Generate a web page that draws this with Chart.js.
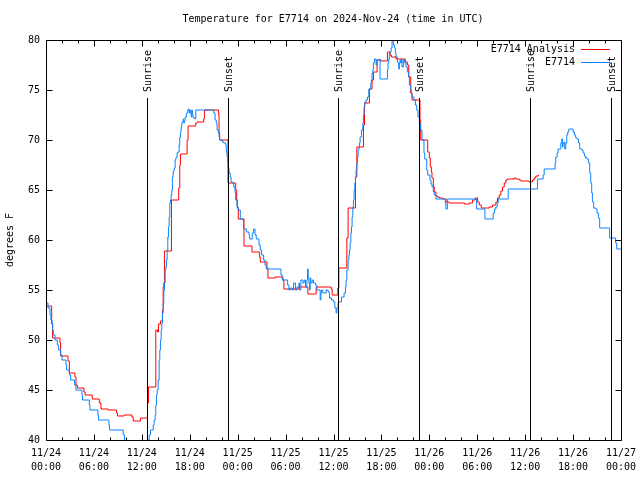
<!DOCTYPE html>
<html>
<head>
<meta charset="utf-8">
<script src="https://cdn.jsdelivr.net/npm/chart.js@4.4.1/dist/chart.umd.min.js"></script>
<style>
html,body{margin:0;padding:0;background:#fff;}
canvas{display:block;}
</style>
</head>
<body>
<canvas id="c" width="640" height="480"></canvas>
<script>
// ---- data (hours since 2024-11-24 00:00 UTC, degrees F) ----
const titleText = "Temperature for E7714 on 2024-Nov-24 (time in UTC)";
const yAxisTitle = "degrees F";
const seriesNames = ["E7714 Analysis", "E7714"];

const xTickHours = [0, 6, 12, 18, 24, 30, 36, 42, 48, 54, 60, 66, 72];
const xTickDates = ["11/24","11/24","11/24","11/24","11/25","11/25","11/25","11/25","11/26","11/26","11/26","11/26","11/27"];
const xTickTimes = ["00:00","06:00","12:00","18:00","00:00","06:00","12:00","18:00","00:00","06:00","12:00","18:00","00:00"];
const yTicks = [40, 45, 50, 55, 60, 65, 70, 75, 80];

const sunriseHours = [12.6, 36.55, 60.55];
const sunsetHours = [22.8, 46.75, 70.7];

const analysisHours = [0,0.71,0.83,1.75,1.83,2.75,2.92,3.62,3.75,3.92,4.75,4.9,5.79,6.67,6.88,7.79,8.83,8.96,9.79,10.75,10.92,11.83,12.71,12.83,13.75,13.96,14.08,14.33,14.58,14.67,14.75,14.83,15.71,16.62,16.75,16.83,17.67,17.79,18.75,18.92,19.75,19.83,21.62,21.67,21.75,22.79,23.75,23.88,23.96,24.08,24.79,25.79,26.75,26.83,27.67,27.79,28.71,29.67,29.79,31.67,32.79,33.83,35.71,35.83,36.54,36.67,37.67,37.83,38.75,38.92,39.75,39.88,40.5,40.83,41.0,41.46,41.96,42.75,43.08,43.25,43.83,45.0,45.25,45.42,45.67,45.83,46.83,46.92,47.79,48.0,48.12,48.25,48.33,48.5,48.62,48.83,49.04,49.25,49.67,50.08,50.5,52.17,52.38,52.79,53.0,53.42,53.75,54.04,54.25,54.5,54.67,55.08,55.5,55.92,56.33,56.54,56.75,56.96,57.17,57.38,57.58,57.79,58.21,58.62,58.83,59.25,59.46,59.88,60.5,60.71,60.92,61.12,61.33,61.67];
const analysisTemps = [53.4,51.6,50.2,49.7,48.4,47.9,46.7,46.3,45.5,45.2,44.8,44.5,44.1,43.7,43.1,43.0,42.7,42.4,42.5,42.3,41.9,42.2,43.7,45.3,51.0,50.8,51.6,51.9,53.0,55.3,55.7,58.9,64.0,65.2,67.5,68.6,70.0,71.4,71.7,71.8,72.1,73.0,72.5,70.7,70.0,65.7,65.0,64.0,63.2,62.1,59.4,58.8,58.3,57.8,57.2,56.2,56.3,56.0,55.1,55.3,54.6,55.3,55.1,54.5,55.2,57.2,60.2,63.2,66.3,69.3,71.5,73.7,75.1,76.0,76.8,78.0,77.9,78.8,78.5,78.3,78.1,77.8,77.5,76.3,74.7,74.0,72.0,70.0,68.8,68.2,67.3,66.8,66.2,65.3,64.8,64.4,64.3,64.2,64.1,63.8,63.7,63.7,63.6,63.6,63.7,64.0,64.2,63.8,63.5,63.2,63.2,63.2,63.3,63.5,63.8,64.2,64.5,64.9,65.3,65.7,66.0,66.1,66.1,66.2,66.1,66.0,65.9,65.9,65.8,65.8,66.0,66.2,66.4,66.5];

const obsHours = [0,0.25,0.5,0.62,0.75,0.83,0.92,1.12,1.42,1.58,1.83,2.0,2.5,2.58,2.92,3.08,3.58,3.75,4.5,4.58,5.42,5.5,6.5,6.58,7.88,7.96,9.67,9.83,12.79,12.92,13.08,13.42,13.54,13.67,13.75,13.83,13.92,14.04,14.17,14.25,14.33,14.42,14.5,14.58,14.67,14.75,14.83,14.92,15.0,15.08,15.17,15.25,15.33,15.42,15.5,15.58,15.67,15.75,15.83,15.92,16.0,16.08,16.17,16.25,16.33,16.42,16.5,16.67,16.75,16.83,16.92,17.0,17.08,17.17,17.25,17.33,17.42,17.58,17.75,17.83,17.92,18.0,18.08,18.17,18.25,18.33,18.42,18.67,18.75,21.0,21.17,21.33,21.42,21.58,21.67,21.75,22.08,22.25,22.5,22.58,22.67,22.75,22.83,22.92,23.08,23.17,23.33,23.5,23.67,23.75,23.92,24.08,24.33,24.75,25.08,25.42,25.5,25.83,26.0,26.17,26.33,26.67,26.83,27.0,27.25,27.42,27.58,29.42,29.58,30.25,30.42,30.58,30.83,31.0,31.25,31.42,31.67,31.75,31.92,32.17,32.33,32.5,32.67,32.75,32.83,32.92,33.0,33.08,33.17,33.33,33.5,33.75,33.92,34.33,34.42,34.5,34.67,35.08,35.33,35.5,35.75,36.0,36.17,36.33,36.42,36.58,37.0,37.33,37.5,37.58,37.67,37.83,37.92,38.0,38.08,38.17,38.25,38.33,38.42,38.5,38.58,38.67,38.75,38.83,38.92,39.0,39.08,39.17,39.25,39.33,39.5,39.67,39.75,39.83,39.92,40.08,40.25,40.42,40.67,40.75,40.83,40.92,41.0,41.12,41.33,41.42,41.75,41.83,42.75,42.83,42.92,43.0,43.12,43.21,43.33,43.5,43.62,43.75,43.83,44.0,44.08,44.17,44.25,44.33,44.42,44.5,44.58,44.75,44.92,45.08,45.25,45.42,45.5,45.67,45.75,45.83,46.08,46.25,46.42,46.58,46.75,46.88,47.08,47.33,47.42,47.67,47.79,48.08,48.21,48.33,48.5,48.62,48.83,50.0,50.08,50.25,53.92,54.96,56.0,56.17,56.33,56.5,56.62,57.88,61.54,62.25,62.38,63.75,63.83,64.0,64.12,64.46,64.58,64.67,64.75,64.88,64.96,65.08,65.21,65.33,65.46,66.0,66.17,66.33,66.5,66.67,66.83,67.08,67.25,67.42,67.58,67.75,67.92,68.08,68.21,68.33,68.42,68.58,68.83,69.0,69.17,69.33,70.58,71.33,71.46,72.0];
const obsTemps = [53.7,53.2,52.5,52.0,51.7,51.0,50.5,50.0,49.5,49.0,48.5,48.0,47.5,47.0,46.5,46.0,45.5,45.0,44.5,44.0,43.5,43.0,42.5,42.0,41.5,41.0,40.5,39.5,40.0,40.5,41.0,41.5,42.0,42.5,43.5,44.5,45.0,46.0,48.0,49.0,50.0,51.0,51.7,52.7,53.7,55.0,55.7,57.0,57.3,58.0,59.0,60.3,61.3,62.3,63.7,64.0,64.5,65.0,66.3,66.8,67.0,67.2,68.0,68.2,68.3,68.7,68.8,69.5,70.3,70.8,71.3,71.7,71.8,72.1,71.7,71.9,72.3,72.7,73.0,73.1,72.7,73.0,72.7,72.3,73.0,72.5,72.2,72.1,73.0,72.7,72.0,71.7,71.0,70.7,70.3,70.0,69.8,69.7,69.5,68.8,68.3,67.8,67.2,66.7,66.3,65.8,65.7,65.3,64.7,64.0,63.3,63.0,62.1,61.1,60.8,60.5,60.1,60.7,61.1,60.5,60.1,59.5,59.0,58.5,58.0,57.5,57.1,56.5,56.0,55.5,55.0,55.2,55.0,55.7,55.0,55.3,55.7,55.0,56.0,55.7,56.0,55.3,56.0,57.1,56.3,55.7,55.0,56.2,55.7,56.0,55.7,55.5,55.0,54.0,54.7,55.0,54.7,55.0,54.8,54.2,54.0,53.8,53.2,52.7,53.2,53.8,54.3,54.7,55.3,56.0,57.0,58.0,58.5,59.0,59.7,60.7,61.3,62.3,63.3,64.0,65.0,65.7,66.3,67.0,67.7,68.3,69.0,69.2,69.7,70.3,71.0,71.7,72.5,73.3,73.8,74.0,74.3,75.1,75.7,76.0,76.7,77.0,77.7,78.1,77.5,78.0,78.1,76.1,77.0,77.7,78.1,78.7,78.8,79.2,80.0,79.5,79.2,78.7,78.3,77.8,77.7,77.1,77.7,78.0,77.7,78.1,77.3,78.0,77.7,77.3,76.8,76.3,75.5,75.0,74.7,74.3,74.0,73.5,73.0,72.3,71.7,71.0,70.0,68.7,68.1,67.0,66.5,66.0,65.6,65.3,64.8,64.5,64.1,63.6,63.1,64.1,63.1,62.1,62.7,63.1,63.3,63.7,64.1,65.1,66.1,66.5,67.1,67.7,68.3,68.7,69.1,69.7,70.1,69.3,69.7,69.8,69.1,69.7,70.5,70.8,71.1,70.8,70.5,70.2,70.1,69.7,69.1,69.0,68.7,68.4,68.2,68.1,67.7,66.7,65.7,64.7,63.8,63.2,63.1,62.7,62.2,61.2,60.2,59.7,59.1,59.1];

// ---- styling ----
const FONT = '10px "DejaVu Sans Mono", "Liberation Mono", monospace';
const RED = '#ff0000';
const BLUE = '#0a84ff';

function pts(xs, ys) { return xs.map((x, i) => ({ x: x, y: ys[i] })); }

const decor = {
  id: 'decor',
  beforeDraw(chart) {
    const ctx = chart.ctx;
    ctx.save();
    ctx.fillStyle = '#fff';
    ctx.fillRect(0, 0, chart.width, chart.height);
    ctx.restore();
  },
  afterDatasetsDraw(chart) {
    const ctx = chart.ctx;
    const xs = chart.scales.x, ys = chart.scales.y;
    const L = Math.round(xs.getPixelForValue(0)) + 0.5;
    const R = Math.round(xs.getPixelForValue(72)) + 0.5;
    const T = Math.round(ys.getPixelForValue(80)) + 0.5;
    const B = Math.round(ys.getPixelForValue(40)) + 0.5;
    ctx.save();
    ctx.strokeStyle = '#000';
    ctx.fillStyle = '#000';
    ctx.lineWidth = 1;
    ctx.font = FONT;

    // sunrise / sunset lines with labels
    const sunLineTop = 98;
    const drawSun = (h, label) => {
      const x = Math.round(xs.getPixelForValue(h)) + 0.5;
      ctx.beginPath();
      ctx.moveTo(x, sunLineTop);
      ctx.lineTo(x, B);
      ctx.stroke();
      ctx.save();
      ctx.translate(x + 1, 92);
      ctx.rotate(-Math.PI / 2);
      ctx.textAlign = 'left';
      ctx.textBaseline = 'middle';
      ctx.fillText(label, 0, 0);
      ctx.restore();
    };
    sunriseHours.forEach(h => drawSun(h, 'Sunrise'));
    sunsetHours.forEach(h => drawSun(h, 'Sunset'));

    // frame
    ctx.beginPath();
    ctx.rect(L, T, R - L, B - T);
    ctx.stroke();

    // x ticks (minor every 2 h, major every 6 h), inward, top and bottom
    ctx.beginPath();
    for (let h = 0; h <= 72; h += 2) {
      const x = Math.round(xs.getPixelForValue(h)) + 0.5;
      const len = (h % 6 === 0) ? 6 : 3;
      ctx.moveTo(x, B); ctx.lineTo(x, B - len);
      ctx.moveTo(x, T); ctx.lineTo(x, T + len);
    }
    // y ticks
    yTicks.forEach(v => {
      const y = Math.round(ys.getPixelForValue(v)) + 0.5;
      ctx.moveTo(L, y); ctx.lineTo(L + 6, y);
      ctx.moveTo(R, y); ctx.lineTo(R - 6, y);
    });
    ctx.stroke();

    // x tick labels
    ctx.textAlign = 'center';
    ctx.textBaseline = 'middle';
    xTickHours.forEach((h, i) => {
      const x = xs.getPixelForValue(h);
      ctx.fillText(xTickDates[i], x, 453);
      ctx.fillText(xTickTimes[i], x, 467);
    });
    // y tick labels
    ctx.textAlign = 'right';
    yTicks.forEach(v => {
      ctx.fillText(String(v), 40, ys.getPixelForValue(v));
    });
    // y axis title
    ctx.save();
    ctx.translate(10, 240);
    ctx.rotate(-Math.PI / 2);
    ctx.textAlign = 'center';
    ctx.fillText(yAxisTitle, 0, 0);
    ctx.restore();
    // title
    ctx.textAlign = 'center';
    ctx.fillText(titleText, 333, 19);

    // legend
    const legendColors = [RED, BLUE];
    const legendY = [49, 62];
    seriesNames.forEach((name, i) => {
      ctx.fillStyle = '#000';
      ctx.textAlign = 'right';
      ctx.fillText(name, 575, legendY[i]);
      ctx.strokeStyle = legendColors[i];
      ctx.beginPath();
      ctx.moveTo(581, legendY[i] + 0.5);
      ctx.lineTo(610, legendY[i] + 0.5);
      ctx.stroke();
    });
    ctx.restore();
  }
};

new Chart(document.getElementById('c'), {
  type: 'line',
  data: {
    datasets: [
      {
        label: seriesNames[1],
        data: pts(obsHours, obsTemps),
        borderColor: BLUE,
        borderWidth: 1,
        pointRadius: 0,
        stepped: true,
        fill: false
      },
      {
        label: seriesNames[0],
        data: pts(analysisHours, analysisTemps),
        borderColor: RED,
        borderWidth: 1,
        pointRadius: 0,
        stepped: true,
        fill: false
      }
    ]
  },
  options: {
    responsive: false,
    animation: false,
    devicePixelRatio: 1,
    layout: { padding: { left: 46, right: 19, top: 40, bottom: 40 } },
    plugins: { legend: { display: false }, tooltip: { enabled: false }, title: { display: false } },
    scales: {
      x: { type: 'linear', min: 0, max: 72, display: false },
      y: { type: 'linear', min: 40, max: 80, display: false }
    }
  },
  plugins: [decor]
});
</script>
</body>
</html>
